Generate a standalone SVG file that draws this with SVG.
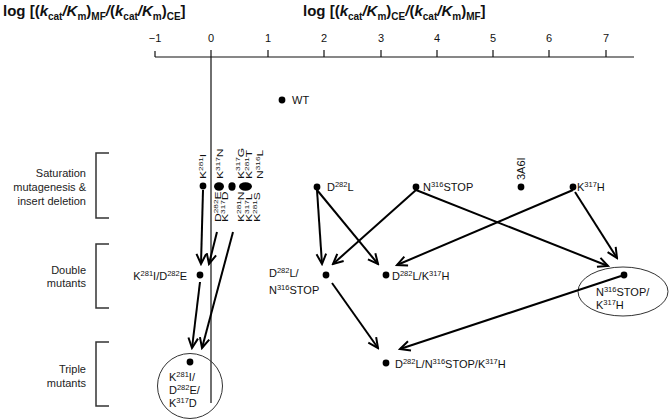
<svg xmlns="http://www.w3.org/2000/svg" width="670" height="420" viewBox="0 0 670 420">
<style>
text{font-family:"Liberation Sans",Arial,sans-serif;fill:#111;}
.title{font-size:15px;font-weight:bold;}
.tsub{font-size:10px;}
.it{font-style:italic;}
.lbl{font-size:11px;}
.sup{font-size:7.5px;}
.tick{font-size:11px;text-anchor:middle;}
.side{font-size:11px;text-anchor:end;fill:#222;}
.axis{stroke:#111;stroke-width:1.2;fill:none;}
.brk{stroke:#333;stroke-width:1.5;fill:none;}
.ring{stroke:#333;stroke-width:1;fill:none;}
.dot{fill:#000;}
.con line{stroke:#000;stroke-width:2;marker-end:url(#arr);}
</style>
<defs>
<marker id="arr" viewBox="-12 -7 14 14" refX="0" refY="0" markerWidth="14" markerHeight="14" markerUnits="userSpaceOnUse" orient="auto">
<path d="M-10,-4.8 L0,0 L-10,4.8" fill="none" stroke="#000" stroke-width="2"/>
</marker>
</defs>
<rect width="670" height="420" fill="#fff"/>

<g id="titles">
<text class="title" x="3" y="16">log [(<tspan class="it">k</tspan><tspan class="tsub" dy="4">cat</tspan><tspan class="it" dy="-4">/K</tspan><tspan class="tsub" dy="4">m</tspan><tspan dy="-4">)</tspan><tspan class="tsub" dy="4">MF</tspan><tspan class="it" dy="-4">/</tspan>(<tspan class="it">k</tspan><tspan class="tsub" dy="4">cat</tspan><tspan class="it" dy="-4">/K</tspan><tspan class="tsub" dy="4">m</tspan><tspan dy="-4">)</tspan><tspan class="tsub" dy="4">CE</tspan><tspan dy="-4">]</tspan></text>
<text class="title" x="303" y="16">log [(<tspan class="it">k</tspan><tspan class="tsub" dy="4">cat</tspan><tspan class="it" dy="-4">/K</tspan><tspan class="tsub" dy="4">m</tspan><tspan dy="-4">)</tspan><tspan class="tsub" dy="4">CE</tspan><tspan class="it" dy="-4">/</tspan>(<tspan class="it">k</tspan><tspan class="tsub" dy="4">cat</tspan><tspan class="it" dy="-4">/K</tspan><tspan class="tsub" dy="4">m</tspan><tspan dy="-4">)</tspan><tspan class="tsub" dy="4">MF</tspan><tspan dy="-4">]</tspan></text>
</g>

<g id="axis">
<path class="axis" d="M155,57 H634 M155,51 V57 M211,50 V403 M268,50 V57 M324,50 V57 M381,50 V57 M437,50 V57 M493,50 V57 M549,50 V57 M606,50 V57"/>
<text class="tick" x="155" y="42">−1</text>
<text class="tick" x="211" y="42">0</text>
<text class="tick" x="268" y="42">1</text>
<text class="tick" x="324" y="42">2</text>
<text class="tick" x="381" y="42">3</text>
<text class="tick" x="437" y="42">4</text>
<text class="tick" x="493" y="42">5</text>
<text class="tick" x="549" y="42">6</text>
<text class="tick" x="606" y="42">7</text>
</g>

<g id="groups">
<path class="brk" d="M109,153 H96 V218 H109"/>
<text class="side" x="86" y="177">Saturation</text>
<text class="side" x="86" y="191">mutagenesis &amp;</text>
<text class="side" x="86" y="205">insert deletion</text>
<path class="brk" d="M109,244 H96 V308 H109"/>
<text class="side" x="86" y="274">Double</text>
<text class="side" x="86" y="287">mutants</text>
<path class="brk" d="M109,342 H96 V406 H109"/>
<text class="side" x="86" y="373">Triple</text>
<text class="side" x="86" y="387">mutants</text>
</g>

<g id="node-WT">
<circle class="dot" cx="282" cy="100" r="3.4"/>
<text class="lbl" x="292" y="104">WT</text>
</g>

<g id="node-saturation-left">
<circle class="dot" cx="203" cy="186" r="3.4"/>
<ellipse class="dot" cx="219" cy="186.5" rx="5" ry="4.2"/>
<ellipse class="dot" cx="232" cy="186.5" rx="3.6" ry="4.2"/>
<ellipse class="dot" cx="245.5" cy="186.5" rx="6.5" ry="4.2"/>
<text class="lbl" transform="translate(206,179) rotate(-90) scale(1.1,0.8)">K<tspan class="sup" dy="-4">281</tspan><tspan dy="4">I</tspan></text>
<text class="lbl" transform="translate(223,179) rotate(-90) scale(1.1,0.8)">K<tspan class="sup" dy="-4">317</tspan><tspan dy="4">N</tspan></text>
<text class="lbl" transform="translate(243.5,179) rotate(-90) scale(1.1,0.8)">K<tspan class="sup" dy="-4">317</tspan><tspan dy="4">G</tspan></text>
<text class="lbl" transform="translate(252,179) rotate(-90) scale(1.1,0.8)">K<tspan class="sup" dy="-4">281</tspan><tspan dy="4">T</tspan></text>
<text class="lbl" transform="translate(263,179) rotate(-90) scale(1.1,0.8)">N<tspan class="sup" dy="-4">316</tspan><tspan dy="4">L</tspan></text>
<text class="lbl" transform="translate(221,222) rotate(-90) scale(1.1,0.8)">D<tspan class="sup" dy="-4">282</tspan><tspan dy="4">E</tspan></text>
<text class="lbl" transform="translate(228,222) rotate(-90) scale(1.1,0.8)">K<tspan class="sup" dy="-4">317</tspan><tspan dy="4">D</tspan></text>
<text class="lbl" transform="translate(244,222) rotate(-90) scale(1.1,0.8)">K<tspan class="sup" dy="-4">281</tspan><tspan dy="4">N</tspan></text>
<text class="lbl" transform="translate(252,222) rotate(-90) scale(1.1,0.8)">K<tspan class="sup" dy="-4">317</tspan><tspan dy="4">L</tspan></text>
<text class="lbl" transform="translate(260,222) rotate(-90) scale(1.1,0.8)">K<tspan class="sup" dy="-4">281</tspan><tspan dy="4">S</tspan></text>
</g>

<g id="node-D282L">
<circle class="dot" cx="317" cy="187" r="3.4"/>
<text class="lbl" x="327" y="191">D<tspan class="sup" dy="-4">282</tspan><tspan dy="4">L</tspan></text>
</g>
<g id="node-N316STOP">
<circle class="dot" cx="416" cy="187" r="3.4"/>
<text class="lbl" x="423" y="191">N<tspan class="sup" dy="-4">316</tspan><tspan dy="4">STOP</tspan></text>
</g>
<g id="node-3A6I">
<circle class="dot" cx="521" cy="187" r="3.4"/>
<text class="lbl" transform="translate(525,180) rotate(-90)">3A6I</text>
</g>
<g id="node-K317H">
<circle class="dot" cx="573" cy="187" r="3.4"/>
<text class="lbl" x="577" y="191">K<tspan class="sup" dy="-4">317</tspan><tspan dy="4">H</tspan></text>
</g>

<g id="node-K281I-D282E">
<circle class="dot" cx="200" cy="275" r="3.4"/>
<text class="lbl" x="187" y="280" text-anchor="end">K<tspan class="sup" dy="-4">281</tspan><tspan dy="4">I/D</tspan><tspan class="sup" dy="-4">282</tspan><tspan dy="4">E</tspan></text>
</g>
<g id="node-D282L-N316STOP">
<circle class="dot" cx="326" cy="275" r="3.4"/>
<text class="lbl" x="269" y="277">D<tspan class="sup" dy="-4">282</tspan><tspan dy="4">L/</tspan></text>
<text class="lbl" x="269" y="294">N<tspan class="sup" dy="-4">316</tspan><tspan dy="4">STOP</tspan></text>
</g>
<g id="node-D282L-K317H">
<circle class="dot" cx="386" cy="275" r="3.4"/>
<text class="lbl" x="392" y="280">D<tspan class="sup" dy="-4">282</tspan><tspan dy="4">L/K</tspan><tspan class="sup" dy="-4">317</tspan><tspan dy="4">H</tspan></text>
</g>
<g id="node-N316STOP-K317H">
<ellipse class="ring" cx="623" cy="291.5" rx="45" ry="24.5"/>
<circle class="dot" cx="624" cy="275" r="3.4"/>
<text class="lbl" x="596" y="296">N<tspan class="sup" dy="-4">316</tspan><tspan dy="4">STOP/</tspan></text>
<text class="lbl" x="596" y="309">K<tspan class="sup" dy="-4">317</tspan><tspan dy="4">H</tspan></text>
</g>

<g id="node-K281I-D282E-K317D">
<circle class="ring" cx="190" cy="386" r="32.5"/>
<circle class="dot" cx="190" cy="362" r="3.4"/>
<text class="lbl" x="169" y="381">K<tspan class="sup" dy="-4">281</tspan><tspan dy="4">I/</tspan></text>
<text class="lbl" x="169" y="394">D<tspan class="sup" dy="-4">282</tspan><tspan dy="4">E/</tspan></text>
<text class="lbl" x="169" y="407">K<tspan class="sup" dy="-4">317</tspan><tspan dy="4">D</tspan></text>
</g>
<g id="node-D282L-N316STOP-K317H">
<circle class="dot" cx="386" cy="363" r="3.4"/>
<text class="lbl" x="395" y="368">D<tspan class="sup" dy="-4">282</tspan><tspan dy="4">L/N</tspan><tspan class="sup" dy="-4">316</tspan><tspan dy="4">STOP/K</tspan><tspan class="sup" dy="-4">317</tspan><tspan dy="4">H</tspan></text>
</g>

<g id="connectors" class="con">
<line x1="203" y1="190" x2="201" y2="264"/>
<line x1="217" y1="232" x2="209" y2="264"/>
<line x1="233" y1="232" x2="202" y2="348"/>
<line x1="200" y1="282" x2="192" y2="348"/>
<line x1="317" y1="190" x2="322" y2="264"/>
<line x1="317" y1="190" x2="378" y2="264"/>
<line x1="416" y1="190" x2="333" y2="264"/>
<line x1="416" y1="190" x2="608" y2="266"/>
<line x1="573" y1="190" x2="397" y2="265"/>
<line x1="575" y1="192" x2="617" y2="258"/>
<line x1="332" y1="283" x2="378" y2="348"/>
<line x1="621" y1="276" x2="400" y2="349"/>
</g>
</svg>
